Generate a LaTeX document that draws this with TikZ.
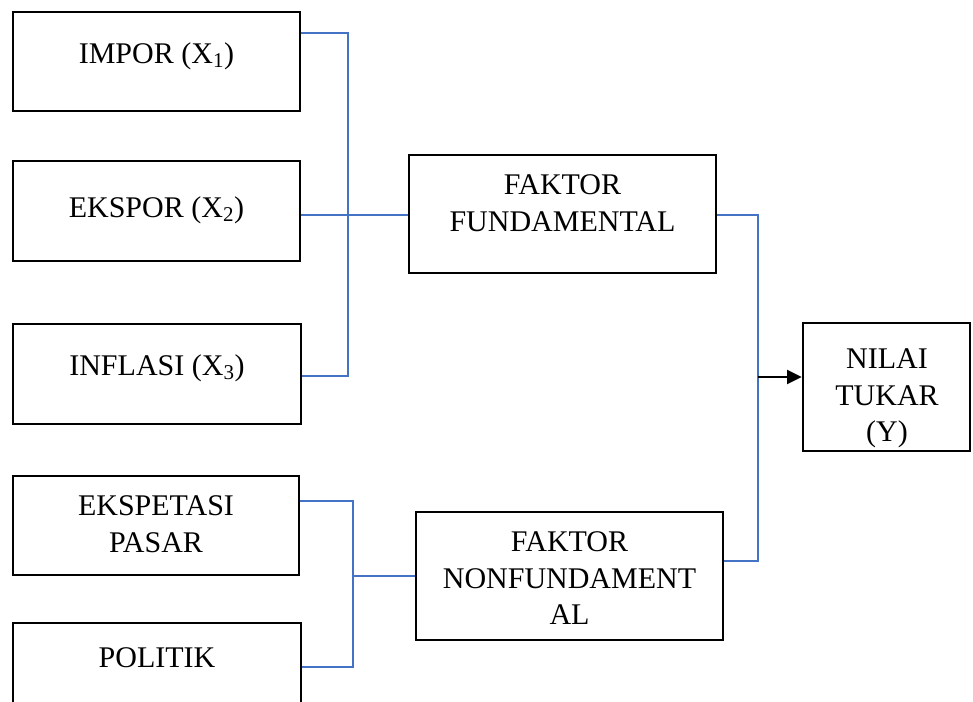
\documentclass[tikz,border=0pt]{standalone}
\usepackage{fontspec}
\setmainfont{Liberation Serif}
\usetikzlibrary{arrows.meta}
\definecolor{linkblue}{HTML}{4472C4}
\tikzset{
  box/.style={draw=black, line width=2pt, inner sep=0pt, rectangle},
  lbl/.style={anchor=north, inner sep=0pt, align=center, font=\fontsize{22.5}{27.5}\selectfont},
  link/.style={draw=linkblue, line width=0.9pt},
  arrowlink/.style={draw=black, line width=1.8pt, -{Triangle[length=11pt,width=10.5pt]}}
}
\begin{document}
\begin{tikzpicture}[x=0.75pt,y=-0.75pt]
\useasboundingbox (0,0) rectangle (973,701);
\clip (0,0) rectangle (973,701);
\fill[white] (0,0) rectangle (973,701);
% boxes
\node[box, minimum width=215.25pt, minimum height=74.25pt] (imp) at (156.5,61.5) {};
\node[box, minimum width=215.25pt, minimum height=75pt] (eks) at (156.5,211) {};
\node[box, minimum width=216pt, minimum height=75pt] (inf) at (157,374) {};
\node[box, minimum width=214.5pt, minimum height=74.25pt] (exp) at (156,525.5) {};
\node[box, minimum width=216pt, minimum height=75pt] (pol) at (157,673) {};
\node[box, minimum width=230.25pt, minimum height=88.5pt] (ff) at (562.5,214) {};
\node[box, minimum width=230.25pt, minimum height=96pt] (nf) at (569.5,576) {};
\node[box, minimum width=125.25pt, minimum height=96pt] (nt) at (886.5,387) {};
% labels
\node[lbl] (timp) at (156.5,37.5) {\strut IMPOR (X\textsubscript{1})};
\node[lbl] (teks) at (156.5,191.5) {\strut EKSPOR (X\textsubscript{2})};
\node[lbl] (tinf) at (157,349.5) {\strut INFLASI (X\textsubscript{3})};
\node[lbl] (texp) at (156,489.5) {\strut EKSPETASI\\PASAR};
\node[lbl] (tpol) at (157,641.5) {\strut POLITIK};
\node[lbl] (tff) at (562.5,168.5) {\strut FAKTOR\\FUNDAMENTAL};
\node[lbl] (tnf) at (569.5,525.5) {\strut FAKTOR\\NONFUNDAMENT\\AL};
\node[lbl] (tnt) at (887,342.5) {\strut NILAI\\TUKAR\\(Y)};
% junction coordinates
\coordinate (j1) at (348,33);
\coordinate (j2) at (348,376);
\coordinate (j3) at (348,215);
\coordinate (k1) at (758,215);
\coordinate (k2) at (758,561);
\coordinate (k3) at (758,377);
\coordinate (m1) at (353,501);
\coordinate (m2) at (353,667);
\coordinate (m3) at (353,576);
% connectors
\draw[link] (imp.east |- j1) -- (j1) -- (j2) -- (inf.east |- j2);
\draw[link] (eks.east |- j3) -- (ff.west |- j3);
\draw[link] (ff.east |- k1) -- (k1) -- (k2) -- (nf.east |- k2);
\draw[arrowlink] (k3) -- (nt.west |- k3);
\draw[link] (exp.east |- m1) -- (m1) -- (m2) -- (pol.east |- m2);
\draw[link] (m3) -- (nf.west |- m3);
\end{tikzpicture}
\end{document}
